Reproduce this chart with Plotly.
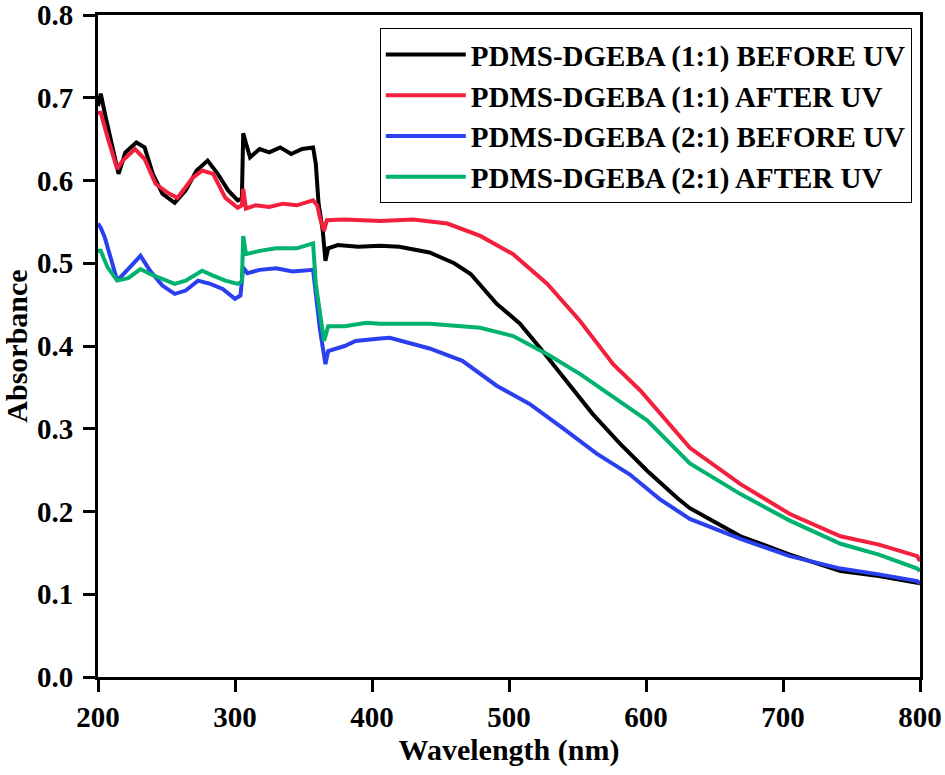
import plotly.graph_objects as go

# values
wl_11_before = [200, 202, 205, 211, 215, 220, 228, 234, 240, 247, 256, 264, 272, 280, 287, 295, 302, 305,
                306, 308, 311, 318, 325, 333, 341, 349, 357, 359, 361, 364, 366, 368, 375, 390, 406, 420,
                442, 460, 472, 491, 508, 523, 542, 561, 581, 601, 623, 632, 669, 705, 742, 770, 798, 800]
abs_11_before = [0.690, 0.705, 0.681, 0.636, 0.608, 0.634, 0.646, 0.640, 0.608, 0.584, 0.573, 0.588, 0.612,
                 0.624, 0.609, 0.588, 0.576, 0.578, 0.657, 0.645, 0.628, 0.638, 0.634, 0.640, 0.632, 0.638,
                 0.640, 0.620, 0.572, 0.540, 0.503, 0.518, 0.522, 0.520, 0.521, 0.520, 0.513, 0.500, 0.487,
                 0.451, 0.427, 0.397, 0.358, 0.318, 0.282, 0.249, 0.216, 0.204, 0.170, 0.148, 0.128, 0.122,
                 0.114, 0.113]

wl_11_after = [200, 202, 207, 214, 218, 227, 234, 242, 251, 258, 269, 276, 284, 293, 302, 305, 306, 308,
               315, 325, 335, 345, 357, 360, 362, 365, 367, 380, 406, 430, 455, 479, 503, 528, 552, 576,
               596, 632, 669, 705, 742, 770, 798, 800]
abs_11_after = [0.682, 0.682, 0.652, 0.614, 0.624, 0.638, 0.626, 0.596, 0.585, 0.579, 0.603, 0.612, 0.608,
                0.579, 0.567, 0.570, 0.590, 0.566, 0.570, 0.568, 0.572, 0.570, 0.576, 0.570, 0.555, 0.539,
                0.552, 0.553, 0.551, 0.553, 0.548, 0.533, 0.511, 0.475, 0.430, 0.378, 0.346, 0.277, 0.233,
                0.197, 0.170, 0.160, 0.146, 0.140]

wl_21_before = [200, 202, 205, 210, 214, 222, 231, 238, 247, 256, 264, 273, 282, 291, 300, 304, 306, 309,
                318, 330, 342, 357, 359, 362, 366, 368, 380, 388, 406, 413, 442, 466, 491, 515, 539, 564,
                588, 610, 632, 669, 705, 742, 770, 798, 800]
abs_21_before = [0.548, 0.543, 0.531, 0.503, 0.479, 0.493, 0.509, 0.491, 0.473, 0.463, 0.467, 0.479, 0.475,
                 0.469, 0.457, 0.461, 0.495, 0.488, 0.492, 0.494, 0.490, 0.492, 0.463, 0.420, 0.378, 0.394,
                 0.400, 0.406, 0.409, 0.410, 0.397, 0.382, 0.352, 0.330, 0.301, 0.270, 0.245, 0.215, 0.191,
                 0.167, 0.146, 0.131, 0.124, 0.116, 0.113]

wl_21_after = [200, 202, 207, 214, 222, 231, 238, 247, 256, 264, 276, 284, 293, 302, 305, 306, 308, 318,
               330, 345, 357, 359, 362, 365, 368, 380, 396, 406, 442, 479, 503, 528, 552, 576, 601, 632,
               669, 705, 742, 770, 798, 800]
abs_21_after = [0.515, 0.515, 0.495, 0.479, 0.482, 0.493, 0.487, 0.481, 0.475, 0.479, 0.491, 0.485, 0.479,
                0.475, 0.478, 0.533, 0.511, 0.515, 0.518, 0.518, 0.524, 0.475, 0.440, 0.406, 0.424, 0.424,
                0.428, 0.427, 0.427, 0.422, 0.412, 0.390, 0.366, 0.338, 0.310, 0.258, 0.221, 0.189, 0.161,
                0.148, 0.131, 0.128]

names = ["PDMS-DGEBA (1:1) BEFORE UV", "PDMS-DGEBA (1:1) AFTER UV",
         "PDMS-DGEBA (2:1) BEFORE UV", "PDMS-DGEBA (2:1) AFTER UV"]
colors = ["#000000", "#f2203c", "#2a40ef", "#00b26e"]

y_ticks = [0.0, 0.1, 0.2, 0.3, 0.4, 0.5, 0.6, 0.7, 0.8]

series = [(wl_11_before, abs_11_before), (wl_11_after, abs_11_after),
          (wl_21_before, abs_21_before), (wl_21_after, abs_21_after)]

fig = go.Figure()
for (x, y), name, col in zip(series, names, colors):
    fig.add_trace(go.Scatter(x=x, y=y, name=name, mode="lines",
                             line=dict(color=col, width=4)))

font_family = "Liberation Serif"

fig.update_layout(
    width=945, height=775,
    margin=dict(l=98, r=25, t=15, b=98),
    plot_bgcolor="white", paper_bgcolor="white",
    font=dict(family=font_family, color="black"),
    legend=dict(x=0.99, xanchor="right", y=0.98, yanchor="top",
                bgcolor="white", bordercolor="black", borderwidth=1,
                font=dict(family=font_family, size=29, weight="bold"),
                itemwidth=80, tracegroupgap=0),
)

axis_style = dict(showline=True, linecolor="black", linewidth=3, mirror=True,
                  ticks="outside", ticklen=12, tickwidth=3, tickcolor="black",
                  showgrid=False, zeroline=False, automargin=False,
                  ticklabeloverflow="allow",
                  tickfont=dict(family=font_family, size=29, weight="bold"))

fig.update_xaxes(range=[200, 800], dtick=100, tick0=200, ticklabelstandoff=0,
                 title=dict(text="Wavelength (nm)", standoff=4,
                            font=dict(family=font_family, size=30, weight="bold")),
                 **axis_style)
fig.update_yaxes(range=[0, 0.8], tickvals=y_ticks, tickformat=".1f", ticklabelstandoff=4,
                 title=dict(text="Absorbance", standoff=3,
                            font=dict(family=font_family, size=30, weight="bold")),
                 **axis_style)

# the page's default 8px body margin would push the figure off the window edges
fig.write_html("out.html", config={"displayModeBar": False},
               post_script="document.body.style.margin='0';")
